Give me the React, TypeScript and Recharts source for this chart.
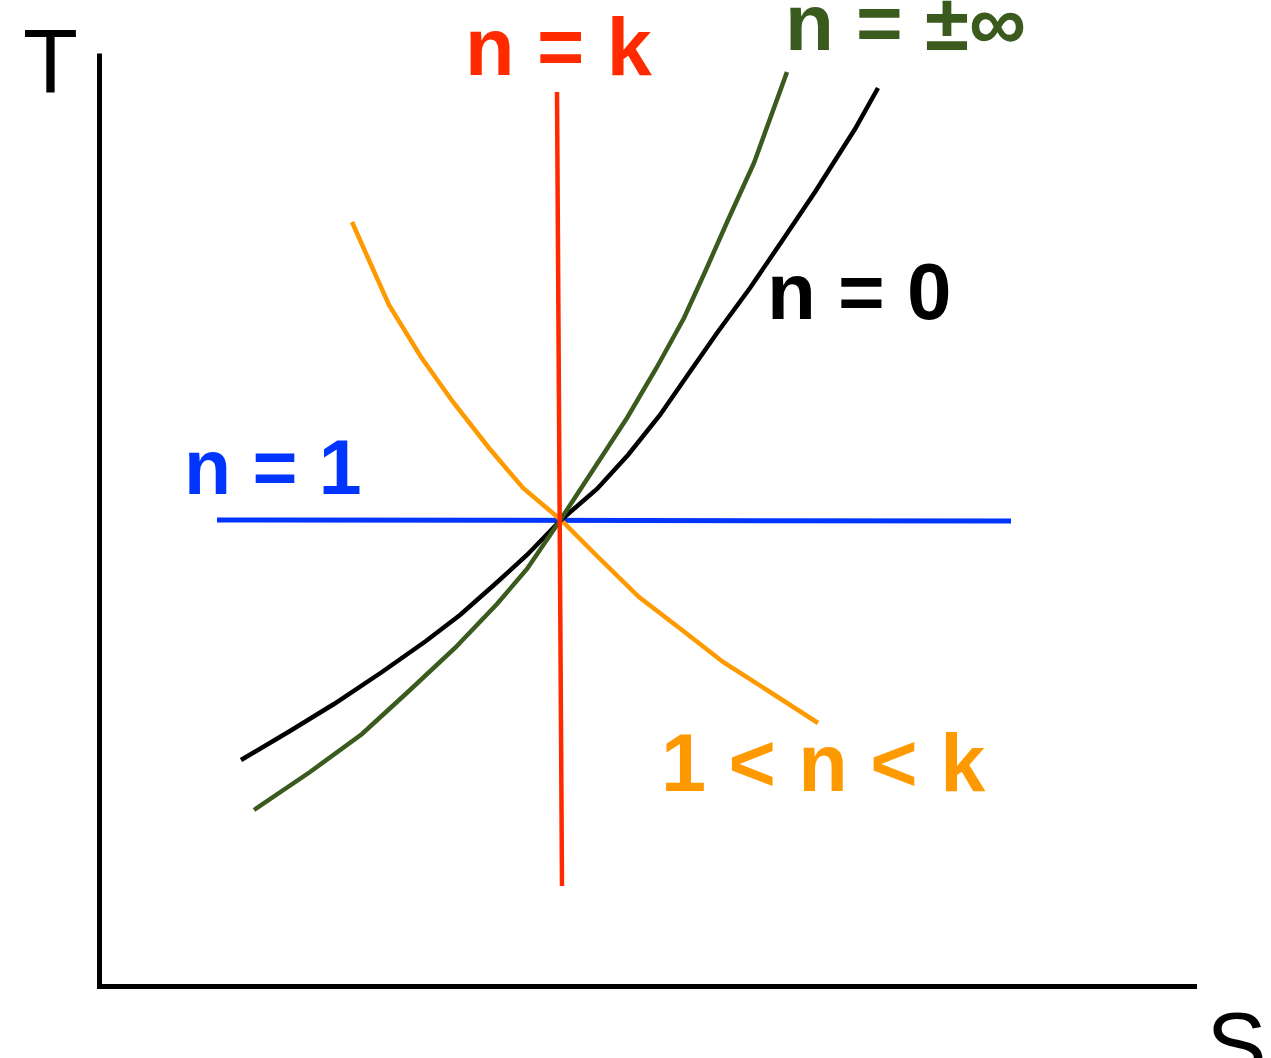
import { ComposedChart, Line, Scatter, XAxis, YAxis } from "recharts";

// T-s diagram of polytropic processes, all curves through one state point.
// s and T in arbitrary units, axes meet at (0, 0).

const axisFrame = [
  { s: 0, t: 9.33 },
  { s: 0, t: 0 },
  { s: 10.975, t: 0 },
];

const isochoric = [
  // n = k
  { s: 4.575, t: 8.945 },
  { s: 4.625, t: 1.005 },
];

const isothermal = [
  // n = 1
  { s: 1.175, t: 4.665 },
  { s: 9.115, t: 4.655 },
];

const isobaric = [
  // n = 0
  { s: 1.415, t: 2.265 },
  { s: 1.905, t: 2.555 },
  { s: 2.345, t: 2.825 },
  { s: 2.825, t: 3.145 },
  { s: 3.265, t: 3.455 },
  { s: 3.605, t: 3.715 },
  { s: 3.945, t: 4.015 },
  { s: 4.275, t: 4.315 },
  { s: 4.615, t: 4.665 },
  { s: 4.975, t: 4.975 },
  { s: 5.285, t: 5.315 },
  { s: 5.605, t: 5.715 },
  { s: 5.875, t: 6.105 },
  { s: 6.175, t: 6.535 },
  { s: 6.505, t: 6.985 },
  { s: 6.825, t: 7.455 },
  { s: 7.155, t: 7.945 },
  { s: 7.555, t: 8.575 },
  { s: 7.785, t: 8.985 },
];

const isochoricInf = [
  // n = ±∞
  { s: 1.545, t: 1.765 },
  { s: 2.105, t: 2.145 },
  { s: 2.625, t: 2.525 },
  { s: 3.105, t: 2.965 },
  { s: 3.555, t: 3.385 },
  { s: 3.975, t: 3.825 },
  { s: 4.275, t: 4.175 },
  { s: 4.615, t: 4.675 },
  { s: 4.955, t: 5.195 },
  { s: 5.275, t: 5.685 },
  { s: 5.575, t: 6.195 },
  { s: 5.845, t: 6.685 },
  { s: 6.055, t: 7.145 },
  { s: 6.285, t: 7.665 },
  { s: 6.545, t: 8.235 },
  { s: 6.875, t: 9.145 },
];

const polytropic = [
  // 1 < n < k
  { s: 2.525, t: 7.645 },
  { s: 2.685, t: 7.285 },
  { s: 2.895, t: 6.815 },
  { s: 3.215, t: 6.295 },
  { s: 3.535, t: 5.845 },
  { s: 3.895, t: 5.385 },
  { s: 4.235, t: 4.985 },
  { s: 4.615, t: 4.665 },
  { s: 4.975, t: 4.305 },
  { s: 5.395, t: 3.895 },
  { s: 5.825, t: 3.565 },
  { s: 6.235, t: 3.245 },
  { s: 6.705, t: 2.945 },
  { s: 7.185, t: 2.635 },
];

const labels = [
  { id: "k", text: "n = k", s: 3.655, t: 9.115 },
  { id: "inf", text: "n = ±∞", s: 6.855, t: 9.365 },
  { id: "zero", text: "n = 0", s: 6.675, t: 6.675 },
  { id: "one", text: "n = 1", s: 0.845, t: 4.925 },
  { id: "poly", text: "1 < n < k", s: 5.615, t: 1.955 },
  { id: "T", text: "T", s: -0.765, t: 8.935 },
  { id: "S", text: "S", s: 11.07, t: -0.895 },
];

const RED = "#ff2a00";
const GREEN = "#3a5a1e";
const BLUE = "#0035ff";
const ORANGE = "#ff9900";

const labelStyle: Record<string, { color: string; size: number; weight: number }> = {
  k: { color: RED, size: 81, weight: 700 },
  inf: { color: GREEN, size: 80, weight: 700 },
  zero: { color: "#000", size: 80, weight: 700 },
  one: { color: BLUE, size: 77, weight: 700 },
  poly: { color: ORANGE, size: 81, weight: 700 },
  T: { color: "#000", size: 90, weight: 400 },
  S: { color: "#000", size: 90, weight: 400 },
};

const TextMark = (props: any) => {
  const { cx, cy, payload } = props;
  const st = labelStyle[payload.id];
  return (
    <text
      x={cx}
      y={cy}
      fill={st.color}
      fontSize={st.size}
      fontWeight={st.weight}
      fontFamily="'Liberation Sans', Arial, sans-serif"
    >
      {payload.text}
    </text>
  );
};

export default function App() {
  return (
    <div style={{ position: "absolute", left: 0, top: 0, width: 1271, height: 1058, overflow: "hidden", background: "#fff" }}>
      <ComposedChart width={1271} height={1100} margin={{ top: 0, right: 0, bottom: 0, left: 0 }}>
        <XAxis dataKey="s" type="number" domain={[-0.995, 11.715]} hide />
        <YAxis type="number" domain={[-1.135, 9.865]} hide />

        <Line data={axisFrame} dataKey="t" type="linear" stroke="#000" strokeWidth={5} strokeLinejoin="miter" dot={false} isAnimationActive={false} />
        <Line data={isothermal} dataKey="t" type="linear" stroke={BLUE} strokeWidth={5} dot={false} isAnimationActive={false} />
        <Line data={polytropic} dataKey="t" type="linear" stroke={ORANGE} strokeWidth={4.5} dot={false} isAnimationActive={false} />
        <Line data={isobaric} dataKey="t" type="linear" stroke="#000" strokeWidth={4.5} dot={false} isAnimationActive={false} />
        <Line data={isochoricInf} dataKey="t" type="linear" stroke={GREEN} strokeWidth={4.5} dot={false} isAnimationActive={false} />
        <Line data={isochoric} dataKey="t" type="linear" stroke={RED} strokeWidth={4.5} dot={false} isAnimationActive={false} />

        <Scatter data={labels} dataKey="t" shape={TextMark} isAnimationActive={false} />
      </ComposedChart>
    </div>
  );
}
